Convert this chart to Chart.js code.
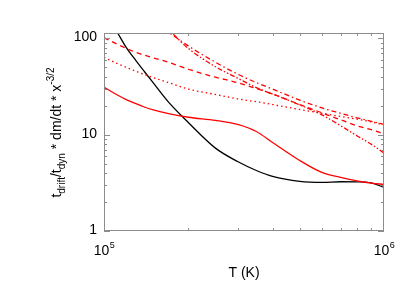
<!DOCTYPE html>
<html>
<head>
<meta charset="utf-8">
<script src="https://cdn.jsdelivr.net/npm/chart.js@4.4.0/dist/chart.umd.min.js"></script>
<style>
  html, body { margin: 0; padding: 0; background: #fff; }
  #wrap { width: 415px; height: 297px; }
</style>
</head>
<body>
<div id="wrap"><canvas id="chart" width="415" height="297"></canvas></div>
<script>
// temperature grid (K)
var temps = [1.0e5, 1.1e5, 1.2e5, 1.3e5, 1.4e5, 1.5e5, 1.7e5, 2.0e5, 2.5e5, 3.0e5,
             3.5e5, 4.0e5, 5.0e5, 6.0e5, 7.0e5, 8.0e5, 9.0e5, 1.0e6];

// values
var blackSolid    = [190, 124, 80.8, 58.9, 44.6, 34.5, 21.8, 13.4, 7.26, 5.27,
                     4.25, 3.69, 3.28, 3.2, 3.25, 3.24, 3.16, 2.84];
var redSolid      = [31.2, 26.5, 23.2, 21.0, 19.3, 18.1, 16.6, 15.2, 14.1, 12.8,
                     10.8, 8.3, 5.4, 4.06, 3.6, 3.32, 3.14, 3.05];
var redDotted     = [63.7, 55.9, 50.2, 45.7, 42.0, 39.2, 34.8, 29.8, 26.2, 23.6,
                     22.0, 20.6, 18.3, 16.7, 15.5, 14.5, 13.6, 12.7];
var redDashed     = [102, 88.8, 78.9, 71.7, 66.8, 62.9, 56.6, 47.9, 39.6, 34.8,
                     30.2, 26.5, 20.6, 16.9, 14.3, 12.4, 11.3, 10.2];
var redDashDot    = [null, null, null, null, null, 148, 116, 83.7, 56.6, 42.6,
                     34.8, 29.8, 22.9, 19.0, 16.7, 15.0, 13.8, 12.8];
var redDashDotDot = [null, null, null, null, null, 177, 124, 78.9, 50.9, 38.7,
                     30.9, 26.5, 20.4, 16.1, 12.4, 9.77, 7.98, 6.45];

var xMajor = [1e5, 1e6];
var xMajorExp = ['5', '6'];
var xMinor = [2e5, 3e5, 4e5, 5e5, 6e5, 7e5, 8e5, 9e5];
var yMajor = [1, 10, 100];
var yMinor = [2, 3, 4, 5, 6, 7, 8, 9, 20, 30, 40, 50, 60, 70, 80, 90];

function pts(vals) {
  var out = [];
  for (var i = 0; i < temps.length; i++) {
    out.push({ x: temps[i], y: vals[i] });
  }
  return out;
}

var FONT = '"Liberation Sans", Arial, Helvetica, sans-serif';

var axesPlugin = {
  id: 'idlAxes',
  afterDraw: function (chart) {
    var ctx = chart.ctx;
    var a = chart.chartArea;
    var xs = chart.scales.x, ys = chart.scales.y;
    ctx.save();
    // frame
    ctx.strokeStyle = '#8c8c8c';
    ctx.lineWidth = 1;
    ctx.strokeRect(a.left + 0.5, a.top + 0.5, a.right - a.left - 1, a.bottom - a.top - 1);
    // ticks, drawn inward on all four sides
    ctx.beginPath();
    function xt(v, len) {
      var p = Math.round(xs.getPixelForValue(v)) + 0.5;
      ctx.moveTo(p, a.bottom); ctx.lineTo(p, a.bottom - len);
      ctx.moveTo(p, a.top); ctx.lineTo(p, a.top + len);
    }
    function yt(v, len) {
      var p = Math.round(ys.getPixelForValue(v)) + 0.5;
      ctx.moveTo(a.left, p); ctx.lineTo(a.left + len, p);
      ctx.moveTo(a.right, p); ctx.lineTo(a.right - len, p);
    }
    xMinor.forEach(function (v) { xt(v, 3); });
    yMinor.forEach(function (v) { yt(v, 3); });
    yMajor.forEach(function (v) { yt(v, 6); });
    ctx.stroke();

    // y tick labels
    ctx.fillStyle = '#000';
    ctx.font = '14px ' + FONT;
    ctx.textAlign = 'right';
    ctx.textBaseline = 'middle';
    yMajor.forEach(function (v) {
      ctx.fillText(String(v), a.left - 7, ys.getPixelForValue(v) - 1);
    });

    // x tick labels 10^n
    ctx.textBaseline = 'alphabetic';
    ctx.textAlign = 'left';
    xMajor.forEach(function (v, i) {
      ctx.font = '14px ' + FONT;
      var w1 = ctx.measureText('10').width;
      ctx.font = '9px ' + FONT;
      var w2 = ctx.measureText(xMajorExp[i]).width;
      var x0 = xs.getPixelForValue(v) - (w1 + w2) / 2;
      ctx.font = '14px ' + FONT;
      ctx.fillText('10', x0, 255);
      ctx.font = '9px ' + FONT;
      ctx.fillText(xMajorExp[i], x0 + w1 + 0.5, 248);
    });

    // x title
    ctx.font = '14px ' + FONT;
    ctx.textAlign = 'center';
    ctx.fillText('T (K)', (a.left + a.right) / 2, 277);

    // y title with sub/superscripts
    var parts = [
      ['t', 14, 0], ['drift', 10, 4], ['/t', 14, 0], ['dyn', 10, 4],
      [' * dm/dt * x', 14, 0], ['-3/2', 10, -7]
    ];
    var total = 0;
    parts.forEach(function (p) {
      ctx.font = p[1] + 'px ' + FONT;
      p.push(ctx.measureText(p[0]).width);
      total += p[3];
    });
    ctx.translate(61, 132.5);
    ctx.rotate(-Math.PI / 2);
    ctx.textAlign = 'left';
    var cx = -total / 2;
    parts.forEach(function (p) {
      ctx.font = p[1] + 'px ' + FONT;
      ctx.fillText(p[0], cx, p[2]);
      cx += p[3];
    });
    ctx.restore();
  }
};

function ds(vals, color, dash) {
  return {
    data: pts(vals),
    borderColor: color,
    borderWidth: 1.3,
    borderDash: dash,
    pointRadius: 0,
    fill: false,
    cubicInterpolationMode: 'monotone',
    spanGaps: false
  };
}

var ctx = document.getElementById('chart').getContext('2d');
new Chart(ctx, {
  type: 'line',
  data: {
    datasets: [
      ds(redSolid, '#ff0000', []),
      ds(redDotted, '#ff0000', [1.5, 3]),
      ds(redDashed, '#ff0000', [5, 4]),
      ds(redDashDot, '#ff0000', [5, 3, 1.5, 3]),
      ds(redDashDotDot, '#ff0000', [5, 2, 1.5, 2, 1.5, 2]),
      ds(blackSolid, '#000000', [])
    ]
  },
  options: {
    responsive: false,
    animation: false,
    devicePixelRatio: 1,
    layout: { padding: { left: 104, right: 31, top: 33, bottom: 66 } },
    plugins: {
      legend: { display: false },
      tooltip: { enabled: false }
    },
    scales: {
      x: { type: 'logarithmic', min: 1e5, max: 1e6, display: false },
      y: { type: 'logarithmic', min: 1, max: 114, display: false }
    }
  },
  plugins: [axesPlugin]
});
</script>
</body>
</html>
